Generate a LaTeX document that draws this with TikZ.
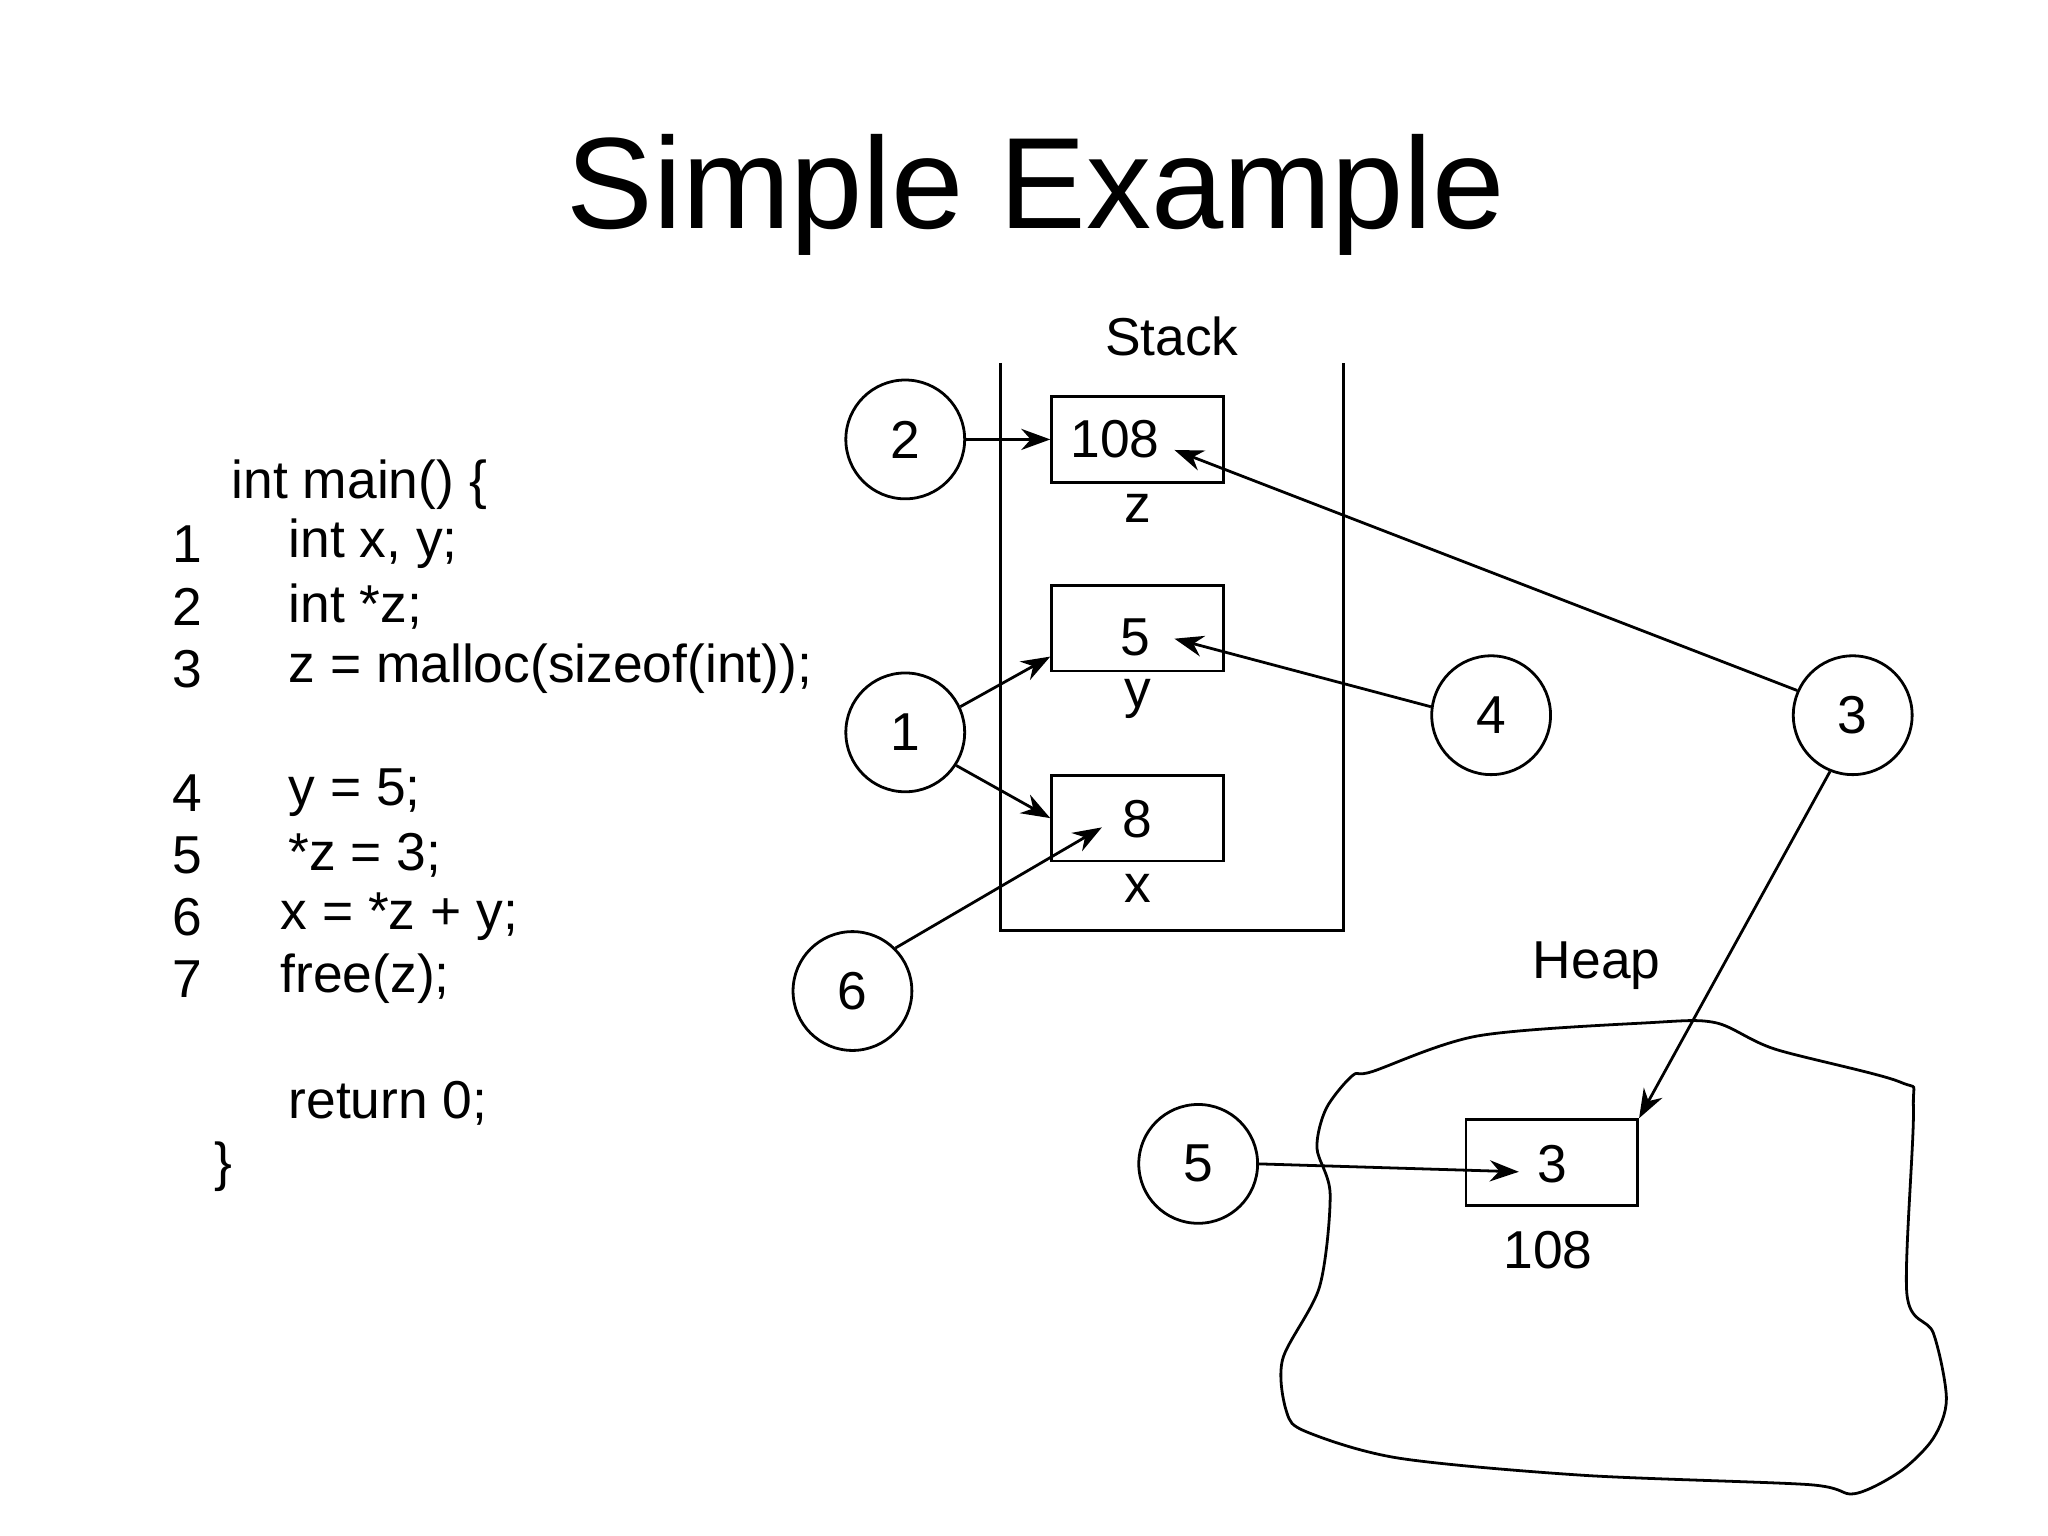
\documentclass[tikz,border=0pt]{standalone}
\usepackage{fontspec}
\setmainfont{Liberation Sans}
\usetikzlibrary{calc,arrows.meta}
\begin{document}
\begin{tikzpicture}[x=0.01cm,y=-0.01cm,
  txt/.style={font=\fontsize{11.5pt}{13pt}\selectfont,inner sep=0},
  code/.style={txt,anchor=west},
  box/.style={draw,line width=0.6pt,minimum width=1.3cm,minimum height=0.65cm,inner sep=0},
  circ/.style={draw,circle,line width=0.6pt,minimum size=0.9cm,inner sep=0,font=\fontsize{11.5pt}{13pt}\selectfont},
  arr/.style={-{Stealth[length=2.2mm,width=1.6mm]},line width=0.6pt},
  ln/.style={line width=0.6pt}]
\useasboundingbox (0,0) rectangle (1552,1164);
\node[inner sep=0,font=\fontsize{28pt}{32pt}\selectfont] (title) at (785,148) {Simple Example};
% code
\node[code] (l0) at (175,367) {int main() \{};
\node[code] (n1) at (130,412) {1}; \node[code] (c1t) at (218,412) {int x, y;};
\node[code] (n2) at (130,460) {2}; \node[code] (c2t) at (218,460) {int *z;};
\node[code] (n3) at (130,507) {3}; \node[code] (c3t) at (218,507) {z = malloc(sizeof(int));};
\node[code] (n4) at (130,601) {4}; \node[code] (c4t) at (218,601) {y = 5;};
\node[code] (n5) at (130,648) {5}; \node[code] (c5t) at (218,648) {*z = 3;};
\node[code] (n6) at (130,695) {6}; \node[code] (c6t) at (212,695) {x = *z + y;};
\node[code] (n7) at (130,742) {7}; \node[code] (c7t) at (212,742) {free(z);};
\node[code] (ret) at (218,836) {return 0;};
\node[code] (cl) at (162,884) {\}};
% stack
\node[txt] (stack) at (888,255) {Stack};
\draw[ln] (758,275) -- (758,705) -- (1018,705) -- (1018,275);
\node[box] (bz) at (862,333) {}; \node[txt] at (845,333) {108};
\node[txt] (lz) at (862,385) {z};
\node[box] (by) at (862,476) {}; \node[txt] at (860,483) {5};
\node[txt] (lyy) at (862,530) {y};
\node[box] (bx) at (862,620) {}; \node[txt] at (862,621) {8};
\node[txt] (lx) at (862,673) {x};
% heap
\node[txt] (heap) at (1210,732) {Heap};
\draw[ln] plot[smooth cycle,tension=0.5] coordinates {(1040,812)(1120,785)(1250,775)(1300,775)(1345,795)(1440,820)(1450,840)(1445,980)(1465,1010)(1475,1060)(1465,1090)(1440,1115)(1405,1132)(1370,1125)(1200,1118)(1060,1105)(990,1085)(975,1070)(972,1030)(1000,975)(1008,905)(998,870)(1005,840)(1025,815)};
\node[box] (bh) at (1176,881) {}; \node[txt] at (1176,882) {3};
\node[txt] (l108) at (1173,947) {108};
% circles
\node[circ] (k2) at (686,333) {2};
\node[circ] (k1) at (686,555) {1};
\node[circ] (k6) at (646,751) {6};
\node[circ] (k4) at (1130,542) {4};
\node[circ] (k3) at (1404,542) {3};
\node[circ] (k5) at (908,882) {5};
% arrows
\draw[arr] (k2.east) -- (bz.west);
\draw[arr] (k1.25) -- ($(by.south west)+(0,-12)$);
\draw[arr] (k1.147) ++(0,0) (k1.-33) -- (bx.west);
\draw[arr] (k6.45) -- ($(bx.center)+(-27,7)$);
\draw[arr] (k4.172) -- ($(by.center)+(28,8)$);
\draw[arr] (k3.156) -- ($(bz.center)+(28,8)$);
\draw[arr] (k3.-112) -- (bh.north east);
\draw[arr] (k5.east) -- ($(bh.center)+(-25,7)$);
\end{tikzpicture}
\end{document}
